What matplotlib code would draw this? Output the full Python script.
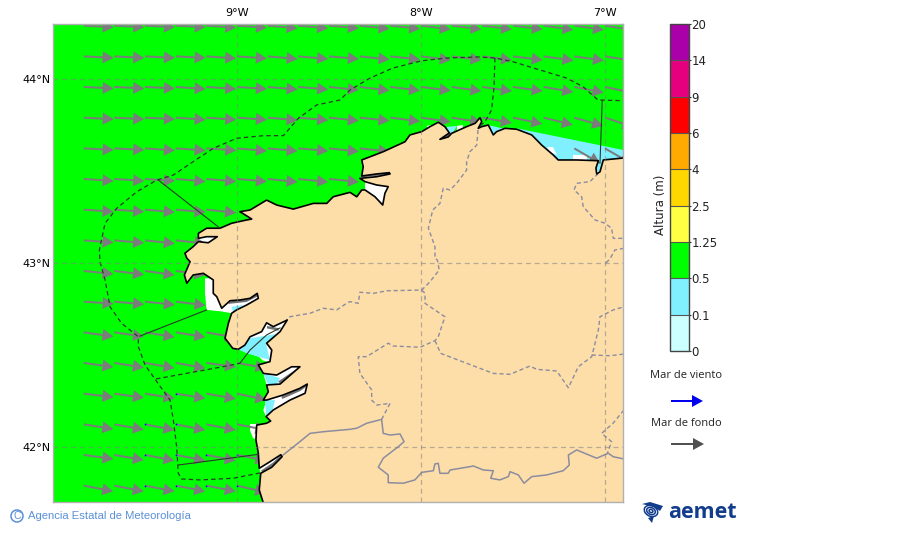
import matplotlib
matplotlib.use('Agg')
import matplotlib.pyplot as plt
import matplotlib.patches as mpatches
from matplotlib.colors import ListedColormap, BoundaryNorm
from matplotlib.colorbar import ColorbarBase
import numpy as np

nan = np.nan

# colour scale
levels = [0, 0.1, 0.5, 1.25, 2.5, 4, 6, 9, 14, 20]
level_labels = ['0', '0.1', '0.5', '1.25', '2.5', '4', '6', '9', '14', '20']
level_colors = ['#CCFFFF', '#80F0FF', '#00FF00', '#FFFF44', '#FFD700',
                '#FFAA00', '#FF0000', '#E6007E', '#AA00AA']

# swell arrows, grid of tails (degrees) and direction below east (degrees)
grid_lon = [-9.833, -9.667, -9.500, -9.333, -9.167, -9.000, -8.833, -8.667, -8.500,
            -8.333, -8.167, -8.000, -7.833, -7.667, -7.500, -7.333, -7.167, -7.000]
grid_lat = [44.290, 44.123, 43.957, 43.790, 43.623, 43.457, 43.290, 43.123,
            42.957, 42.790, 42.623, 42.457, 42.290, 42.123, 41.957, 41.790]
swell_dir = [
    [3, 3, 3, 3, 4, 4, 5, 5, 5, 6, 6, 7, 7, 7, 7, 8, 8, 9],
    [3, 3, 3, 3, 4, 4, 5, 5, 5, 6, 6, 7, 7, 7, 7, 8, 8, 9],
    [3, 3, 3, 4, 4, 4, 5, 5, 6, 7, 7, 7, 8, 8, 8, 10, 11, 12],
    [3, 3, 3, 4, 4, 4, 5, 5, 6, 6, 7, 8, 9, 10, 12, 14, 16, 18],
    [3, 3, 4, 4, 4, 5, 5, 5, 6, 6, nan, nan, nan, nan, nan, nan, 30, 30],
    [4, 4, 4, 5, 5, 5, 6, 6, 6, nan, nan, nan, nan, nan, nan, nan, nan, nan],
    [4, 4, 5, 5, 6, nan, nan, nan, nan, nan, nan, nan, nan, nan, nan, nan, nan, nan],
    [4, 5, 6, 6, nan, nan, nan, nan, nan, nan, nan, nan, nan, nan, nan, nan, nan, nan],
    [6, 7, 8, 8, nan, nan, nan, nan, nan, nan, nan, nan, nan, nan, nan, nan, nan, nan],
    [4, 5, 6, 7, nan, nan, nan, nan, nan, nan, nan, nan, nan, nan, nan, nan, nan, nan],
    [8, 8, 9, 9, 10, nan, nan, nan, nan, nan, nan, nan, nan, nan, nan, nan, nan, nan],
    [8, 9, 10, 10, 8, 10, nan, nan, nan, nan, nan, nan, nan, nan, nan, nan, nan, nan],
    [7, 8, 9, 9, 10, 12, nan, nan, nan, nan, nan, nan, nan, nan, nan, nan, nan, nan],
    [9, 10, 11, 11, 11, 11, nan, nan, nan, nan, nan, nan, nan, nan, nan, nan, nan, nan],
    [8, 10, 11, 11, 11, 11, nan, nan, nan, nan, nan, nan, nan, nan, nan, nan, nan, nan],
    [11, 11, 11, 11, 11, 13, nan, nan, nan, nan, nan, nan, nan, nan, nan, nan, nan, nan],
]

# tiny wind sea arrows seen under the swell ones
wind_lon = [-9.333, -9.500, -9.333, -9.500, -9.333, -9.167, -9.000, -9.500, -9.333, -9.167, -9.000]
wind_lat = [42.290, 42.123, 42.123, 41.957, 41.957, 41.957, 41.957, 41.790, 41.790, 41.790, 41.790]

# coast, south to north then east
coast_lon = [-8.857, -8.879, -8.871, -8.811, -8.755, -8.762, -8.821, -8.879, -8.884, -8.897,
             -8.893, -8.839, -8.817, -8.842, -8.803, -8.712, -8.630, -8.618, -8.658, -8.748,
             -8.839, -8.857, -8.830, -8.839, -8.766, -8.658, -8.703, -8.784, -8.857, -8.884,
             -8.821, -8.811, -8.839, -8.766, -8.727, -8.803, -8.839, -8.866, -8.929, -8.957,
             -8.993, -9.023, -9.065, -9.047, -9.029, -9.002, -8.947, -8.884, -8.890, -8.929,
             -8.984, -9.038, -9.083, -9.110, -9.129, -9.129, -9.183, -9.238, -9.273, -9.286,
             -9.255, -9.273, -9.283, -9.238, -9.210, -9.156, -9.107, -9.165, -9.210, -9.210,
             -9.165, -9.092, -9.029, -8.947, -8.920, -8.984, -8.929, -8.839, -8.784, -8.694,
             -8.585, -8.512, -8.477, -8.386, -8.349, -8.322, -8.304, -8.250, -8.208, -8.196,
             -8.178, -8.241, -8.304, -8.332, -8.241, -8.168, -8.172, -8.241, -8.322, -8.314,
             -8.322, -8.205, -8.087, -8.060, -7.996, -7.951, -7.906, -7.870, -7.846, -7.897,
             -7.852, -7.833, -7.752, -7.706, -7.679, -7.670, -7.689, -7.670, -7.634, -7.607,
             -7.589, -7.543, -7.480, -7.398, -7.344, -7.281, -7.254, -7.154, -7.036, -7.049,
             -7.045, -7.027, -7.009, -6.897]
coast_lat = [41.696, 41.766, 41.857, 41.890, 41.947, 41.958, 41.920, 41.884, 41.966, 42.038,
             42.119, 42.129, 42.141, 42.165, 42.201, 42.255, 42.292, 42.342, 42.319, 42.283,
             42.255, 42.255, 42.300, 42.337, 42.342, 42.436, 42.436, 42.391, 42.400, 42.446,
             42.464, 42.527, 42.564, 42.627, 42.690, 42.654, 42.675, 42.627, 42.599, 42.554,
             42.531, 42.536, 42.591, 42.672, 42.727, 42.745, 42.772, 42.808, 42.835, 42.808,
             42.799, 42.795, 42.754, 42.817, 42.835, 42.908, 42.944, 42.935, 42.890, 42.935,
             43.007, 43.027, 43.053, 43.089, 43.116, 43.110, 43.143, 43.143, 43.134, 43.161,
             43.189, 43.189, 43.216, 43.234, 43.239, 43.279, 43.288, 43.342, 43.315, 43.293,
             43.324, 43.324, 43.360, 43.384, 43.360, 43.397, 43.397, 43.360, 43.315, 43.379,
             43.415, 43.424, 43.442, 43.460, 43.469, 43.484, 43.491, 43.484, 43.473, 43.523,
             43.560, 43.605, 43.659, 43.696, 43.714, 43.741, 43.765, 43.741, 43.707, 43.672,
             43.685, 43.705, 43.741, 43.759, 43.790, 43.768, 43.732, 43.741, 43.750, 43.696,
             43.714, 43.732, 43.727, 43.696, 43.641, 43.587, 43.560, 43.560, 43.556, 43.516,
             43.484, 43.496, 43.560, 43.571]

# sea areas with no data or with lower wave height
white_areas = [
    ([-9.174, -9.065, -9.065, -9.165, -9.174], [42.917, 42.917, 42.735, 42.745, 42.835]),
    ([-9.075, -9.029, -8.880, -8.890, -9.040, -9.090], [42.735, 42.727, 42.800, 42.840, 42.800, 42.760]),
    ([-8.990, -8.930, -8.866, -8.840, -8.800, -8.727, -8.770, -8.810, -8.820, -8.860, -8.880],
     [42.530, 42.600, 42.627, 42.680, 42.660, 42.690, 42.620, 42.530, 42.460, 42.470, 42.490]),
    ([-8.857, -8.784, -8.703, -8.658, -8.766, -8.839], [42.400, 42.391, 42.436, 42.436, 42.342, 42.337]),
    ([-8.839, -8.748, -8.658, -8.618, -8.630, -8.712, -8.803, -8.842, -8.857],
     [42.255, 42.283, 42.319, 42.342, 42.292, 42.255, 42.201, 42.165, 42.200]),
    ([-8.929, -8.880, -8.880, -8.913, -8.929], [42.125, 42.125, 42.035, 42.049, 42.090]),
    ([-8.304, -8.250, -8.208, -8.196, -8.178, -8.241, -8.304], [43.397, 43.360, 43.315, 43.379, 43.415, 43.424, 43.442]),
    ([-8.332, -8.241, -8.168, -8.172, -8.241, -8.322], [43.460, 43.469, 43.484, 43.491, 43.484, 43.473]),
    ([-7.805, -7.772, -7.772, -7.805], [43.745, 43.750, 43.720, 43.720]),
    ([-7.967, -7.913, -7.913, -7.967], [43.745, 43.756, 43.730, 43.710]),
    ([-8.75, -8.696, -8.70, -8.75], [41.703, 41.720, 41.695, 41.695]),
    ([-8.871, -8.811, -8.755, -8.762, -8.821, -8.879], [41.857, 41.890, 41.947, 41.958, 41.920, 41.884]),
    ([-9.210, -9.156, -9.107, -9.165, -9.210], [43.116, 43.110, 43.143, 43.143, 43.134]),
    ([-7.846, -7.897, -7.852, -7.833], [43.707, 43.672, 43.685, 43.705]),
    ([-7.036, -7.049, -7.045, -7.027, -7.009], [43.556, 43.516, 43.484, 43.496, 43.560]),
]
cyan_areas = [
    ([-9.029, -8.966, -9.002, -9.020], [42.762, 42.772, 42.745, 42.727]),
    ([-8.993, -8.929, -8.784, -8.842, -8.830, -8.821, -8.884, -8.947],
     [42.531, 42.591, 42.614, 42.564, 42.509, 42.473, 42.491, 42.509]),
    ([-8.857, -8.766, -8.782, -8.830], [42.400, 42.375, 42.342, 42.337]),
    ([-8.848, -8.793, -8.811, -8.842], [42.255, 42.255, 42.183, 42.165]),
    ([-7.480, -6.900, -6.900, -7.500], [43.732, 43.614, 43.500, 43.500]),
    ([-7.859, -7.805, -7.830, -7.859], [43.740, 43.745, 43.700, 43.700]),
    ([-7.635, -7.550, -7.600, -7.650], [43.750, 43.730, 43.680, 43.700]),
]
white_on_cyan = [
    ([-7.315, -7.283, -7.261, -7.300], [43.630, 43.630, 43.587, 43.604]),
    ([-7.174, -7.098, -7.098, -7.174], [43.587, 43.587, 43.550, 43.550]),
]
# dense grey arrows packed inside the rias
ria_lines = [
    ([-9.040, -8.950, -8.890], [42.785, 42.795, 42.825]),
    ([-8.750, -8.660, -8.625], [42.270, 42.310, 42.335]),
    ([-8.766, -8.658], [42.355, 42.428]),
    ([-8.860, -8.800, -8.760], [41.870, 41.910, 41.950]),
    ([-8.830, -8.780], [42.650, 42.640]),
    ([-7.865, -7.840], [43.685, 43.700]),
    ([-7.690, -7.678], [43.745, 43.775]),
    ([-8.320, -8.180], [43.472, 43.487]),
]

# maritime zones
zone_lon = [-8.875, -9.020, -9.201, -9.301, -9.319, -9.328, -9.346, -9.364, -9.436, -9.500,
            -9.536, -9.536, -9.627, -9.690, -9.717, -9.745, -9.748, -9.717, -9.654, -9.545,
            -9.436, -9.346, -9.238, -9.129, -9.002, -8.857, -8.748, -8.667, -8.567, -8.440,
            -8.386, -8.277, -8.152, -7.996, -7.860, -7.690, -7.598, -7.500, -7.353, -7.208,
            -7.119, -7.038, -6.900]
zone_lat = [41.859, 41.830, 41.821, 41.826, 41.857, 42.002, 42.147, 42.255, 42.355, 42.446,
            42.545, 42.599, 42.672, 42.762, 42.908, 43.007, 43.071, 43.216, 43.297, 43.387,
            43.451, 43.478, 43.551, 43.623, 43.678, 43.692, 43.692, 43.786, 43.859, 43.886,
            43.940, 44.005, 44.060, 44.099, 44.114, 44.120, 44.114, 44.094, 44.049, 44.005,
            43.958, 43.886, 43.882]
zone_dashed = [
    ([-7.598, -7.603, -7.616, -7.652, -7.679], [44.114, 43.958, 43.832, 43.768, 43.745]),
    ([-9.440, -9.056, -8.984], [42.370, 42.440, 42.455]),
]
zone_solid = [
    ([-7.015, -7.027], [43.882, 43.543]),
    ([-9.428, -9.092], [43.451, 43.189]),
    ([-9.527, -9.165], [42.603, 42.745]),
    ([-8.984, -8.929, -8.839, -8.766], [42.455, 42.527, 42.609, 42.647]),
    ([-9.319, -8.884], [41.902, 41.960]),
]

# provinces
province_lines = [
    ([-7.690, -7.697, -7.734, -7.752, -7.752, -7.806, -7.842, -7.879, -7.897, -7.936, -7.960, -7.924,
      -7.924, -7.911, -7.901, -7.951, -7.996, -8.186, -8.259, -8.332, -8.341, -8.386, -8.404, -8.458,
      -8.531, -8.603, -8.712, -8.730],
     [43.723, 43.641, 43.605, 43.551, 43.505, 43.433, 43.397, 43.406, 43.324, 43.288, 43.189, 43.089,
      43.027, 43.016, 42.962, 42.898, 42.853, 42.849, 42.835, 42.841, 42.781, 42.790, 42.781, 42.745,
      42.754, 42.727, 42.708, 42.690]),
    ([-7.996, -7.978, -7.978, -7.870, -7.906, -7.924], [42.853, 42.835, 42.781, 42.708, 42.599, 42.578]),
    ([-8.214, -8.168, -8.241, -8.268, -8.268, -8.332, -8.341, -8.295, -8.178, -8.151, -8.005, -7.924],
     [42.150, 42.237, 42.228, 42.255, 42.310, 42.400, 42.491, 42.491, 42.564, 42.549, 42.542, 42.578]),
    ([-7.924, -7.893, -7.752, -7.607, -7.516, -7.408, -7.371, -7.262, -7.199, -7.145, -7.072, -7.036,
      -7.027, -6.955, -6.897],
     [42.578, 42.509, 42.455, 42.400, 42.395, 42.440, 42.422, 42.413, 42.322, 42.436, 42.491, 42.636,
      42.708, 42.745, 42.762]),
    ([-7.072, -6.973, -6.897], [42.500, 42.496, 42.505]),
    ([-6.897, -6.956, -7.018, -6.964, -6.987], [42.201, 42.129, 42.074, 42.029, 41.966]),
    ([-7.036, -7.082, -7.154, -7.168, -7.127, -7.118, -7.054, -7.000, -6.964, -6.955, -6.897],
     [43.487, 43.442, 43.433, 43.397, 43.360, 43.306, 43.234, 43.216, 43.189, 43.134, 43.134]),
    ([-6.897, -6.946, -6.973, -6.995], [43.080, 43.071, 43.022, 43.000]),
]

# border with Portugal
border_lon = [-8.750, -8.658, -8.603, -8.531, -8.386, -8.349, -8.295, -8.214, -8.205, -8.168, -8.114,
              -8.092, -8.123, -8.205, -8.232, -8.178, -8.178, -8.096, -8.033, -7.996, -7.933, -7.924,
              -7.906, -7.897, -7.852, -7.842, -7.734, -7.716, -7.661, -7.607, -7.621, -7.571, -7.525,
              -7.516, -7.471, -7.440, -7.398, -7.317, -7.227, -7.194, -7.199, -7.154, -7.045, -6.982,
              -6.955, -6.897]
border_lat = [41.956, 42.029, 42.074, 42.083, 42.096, 42.102, 42.129, 42.150, 42.074, 42.065, 42.071,
              42.029, 42.002, 41.939, 41.890, 41.848, 41.806, 41.803, 41.821, 41.862, 41.871, 41.908,
              41.911, 41.857, 41.857, 41.875, 41.893, 41.897, 41.875, 41.871, 41.830, 41.821, 41.839,
              41.866, 41.848, 41.803, 41.839, 41.848, 41.871, 41.902, 41.956, 41.984, 41.939, 41.966,
              41.947, 41.935]

lon_ticks = [-9, -8, -7]
lon_labels = ['9°W', '8°W', '7°W']
lat_ticks = [42, 43, 44]
lat_labels = ['42°N', '43°N', '44°N']

fig = plt.figure(figsize=(9, 5.33), dpi=100)
ax = fig.add_axes([53/900, 31/533, 570/900, 478/533])
ax.set_xlim(-10, -6.902)
ax.set_ylim(41.701, 44.299)
ax.set_facecolor('#00FF00')

for xs, ys in white_areas:
    ax.fill(xs, ys, color='white', lw=0, zorder=1)
for xs, ys in cyan_areas:
    ax.fill(xs, ys, color=level_colors[1], lw=0, zorder=1.5)
for xs, ys in white_on_cyan:
    ax.fill(xs, ys, color='white', lw=0, zorder=1.6)
for xs, ys in ria_lines:
    ax.plot(xs, ys, color='#707070', lw=1.8, zorder=3)

angle = np.radians(np.array(swell_dir, dtype=float))
X, Y = np.meshgrid(grid_lon, grid_lat)
ax.quiver(X, Y, np.cos(angle), -np.sin(angle), angles='uv', pivot='tail', scale=3.33,
          scale_units='inches', units='dots', width=2.0, headwidth=6.0, headlength=5.5,
          headaxislength=5.5, color='#7c7c7c', zorder=3)
ax.plot(wind_lon, wind_lat, ls='none', marker='o', ms=1.2, mew=0, color='blue', zorder=3.5)

ax.fill(coast_lon + [-6.897, -8.857], coast_lat + [41.696, 41.696], color='#FDDEA8', lw=0, zorder=4)
ax.plot(coast_lon, coast_lat, color='black', lw=1.2, zorder=5.5)

for xs, ys in province_lines:
    ax.plot(xs, ys, color='#8c8ca0', lw=1.0, ls=(0, (3, 2)), zorder=5)
ax.plot(border_lon, border_lat, color='#8c8ca0', lw=1.1, zorder=5)

ax.plot(zone_lon, zone_lat, color='#2a3a2a', lw=0.9, ls=(0, (3.5, 2.5)), zorder=6)
for xs, ys in zone_dashed:
    ax.plot(xs, ys, color='#2a3a2a', lw=0.9, ls=(0, (3.5, 2.5)), zorder=6)
for xs, ys in zone_solid:
    ax.plot(xs, ys, color='#2a3a2a', lw=0.8, zorder=6)

ax.set_xticks(lon_ticks)
ax.set_xticklabels(lon_labels, fontsize=8)
ax.set_yticks(lat_ticks)
ax.set_yticklabels(lat_labels, fontsize=8)
ax.tick_params(axis='x', top=True, labeltop=True, bottom=False, labelbottom=False, length=0, pad=4)
ax.tick_params(axis='y', length=0, pad=2)
for lon in lon_ticks:
    ax.axvline(lon, color='#808080', alpha=0.55, lw=0.9, ls=(0, (4, 3)), zorder=7)
for lat in lat_ticks:
    ax.axhline(lat, color='#808080', alpha=0.55, lw=0.9, ls=(0, (4, 3)), zorder=7)
for s in ax.spines.values():
    s.set_color('#b0b0b0')
    s.set_linewidth(1)
    s.set_zorder(8)

# colorbar
cax = fig.add_axes([669.5/900, (533-351)/533, 19/900, 327/533])
cmap = ListedColormap(level_colors)
norm = BoundaryNorm(levels, cmap.N)
cb = ColorbarBase(cax, cmap=cmap, norm=norm, spacing='uniform', ticks=levels, drawedges=True)
cb.ax.set_yticklabels(level_labels, fontsize=8.5)
cb.ax.tick_params(length=1.5, width=0.8, pad=0.5, color='#333333', labelcolor='#222222')
cb.outline.set_edgecolor('#444444')
cb.outline.set_linewidth(1)
cb.dividers.set_color('#555555')
cb.dividers.set_linewidth(0.8)
cb.set_label('Altura (m)', fontsize=8.5, color='#222222')
cb.ax.yaxis.set_label_position('left')
cb.ax.yaxis.set_label_coords(-0.13, 0.446)

# legend and logos, this overlay is in figure pixels
ov = fig.add_axes([0, 0, 1, 1], zorder=10)
ov.set_xlim(0, 900)
ov.set_ylim(533, 0)
ov.axis('off')
ov.patch.set_alpha(0)

ov.text(686, 376, 'Mar de viento', fontsize=8, family='Open Sans', color='#222222', ha='center', va='center')
ov.text(686, 423, 'Mar de fondo', fontsize=8, family='Open Sans', color='#222222', ha='center', va='center')
ov.add_patch(mpatches.FancyArrow(671, 401, 32, 0, width=2, head_width=12, head_length=11,
                                 length_includes_head=True, color='#0000EE', lw=0))
ov.add_patch(mpatches.FancyArrow(671, 444, 33, 0, width=2, head_width=12, head_length=11,
                                 length_includes_head=True, color='#505050', lw=0))

ov.add_patch(mpatches.Circle((17, 516), 6, fill=False, ec='#5b90d8', lw=1.1))
ov.text(17, 516, 'C', fontsize=7.5, family='Liberation Sans', color='#5b90d8', ha='center', va='center')
ov.text(28, 516, 'Agencia Estatal de Meteorología', fontsize=8.15, family='Liberation Sans',
        color='#5b90d8', ha='left', va='center')

navy = '#123c8c'
ov.text(702.5, 512, 'aemet', fontsize=15.5, family='Open Sans', weight='bold', color=navy, ha='center', va='center')
for r in [2, 4.5, 7]:
    ov.add_patch(mpatches.Ellipse((651, 511), r*2, r*1.5, angle=25, fill=False, ec=navy, lw=1.1))
ov.fill([642, 650, 663, 660, 654], [504, 502, 506, 511, 507], color=navy, lw=0)
ov.fill([648, 654, 652], [518, 516, 523], color=navy, lw=0)

fig.savefig('out.png', dpi=100)
